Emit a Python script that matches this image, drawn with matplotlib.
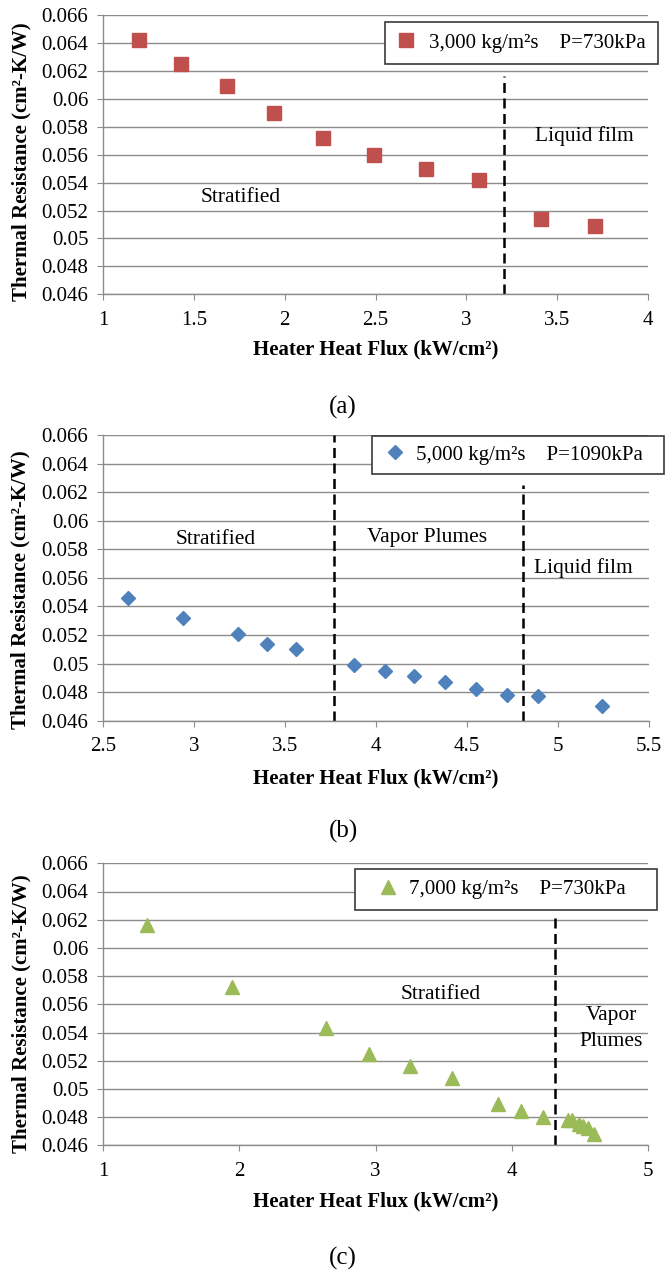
import matplotlib
matplotlib.use("Agg")
import matplotlib.pyplot as plt

# Data
qa = [1.20, 1.43, 1.68, 1.94, 2.21, 2.49, 2.78, 3.07, 3.41, 3.71]
ra = [0.0642, 0.0625, 0.0609, 0.0590, 0.0572, 0.0560, 0.0550, 0.0542, 0.0514, 0.0509]

qb = [2.64, 2.94, 3.24, 3.40, 3.56, 3.88, 4.05, 4.21, 4.38, 4.55, 4.72, 4.89, 5.24]
rb = [0.0546, 0.0532, 0.0521, 0.0514, 0.0510, 0.0499, 0.0495, 0.0491, 0.0487,
      0.0482, 0.0478, 0.0477, 0.0470]

qc = [1.32, 1.95, 2.64, 2.95, 3.25, 3.56, 3.90, 4.07, 4.23,
      4.41, 4.44, 4.49, 4.52, 4.56, 4.60]
rc = [0.0616, 0.0572, 0.0543, 0.0525, 0.0516, 0.0508, 0.0489, 0.0484, 0.0480,
      0.0478, 0.0478, 0.0475, 0.0474, 0.0472, 0.0468]

labels = ["3,000 kg/m²s    P=730kPa",
          "5,000 kg/m²s    P=1090kPa",
          "7,000 kg/m²s    P=730kPa"]
bounds_a = [3.21]
bounds_b = [3.77, 4.81]
bounds_c = [4.32]

plt.rcParams["font.family"] = ["Liberation Serif", "DejaVu Serif"]
GRID = "#8c8c8c"

fig = plt.figure(figsize=(6.65, 12.75), dpi=100)


def style(ax, xlim, xticks):
    ax.set_xlim(*xlim)
    ax.set_ylim(0.046, 0.066)
    ax.set_xticks(xticks)
    ax.set_xticklabels([("%g" % t) for t in xticks])
    yt = [0.046 + 0.002 * i for i in range(11)]
    ax.set_yticks(yt)
    ax.set_yticklabels([("%.3f" % t).rstrip("0") if t != 0.05 and t != 0.06 else ("%.2f" % t) for t in yt])
    ax.yaxis.grid(True, color=GRID, lw=1.0)
    ax.set_axisbelow(True)
    for s in ["top", "right"]:
        ax.spines[s].set_visible(False)
    for s in ["left", "bottom"]:
        ax.spines[s].set_color(GRID)
        ax.spines[s].set_linewidth(1.0)
    ax.tick_params(axis="y", length=4.5, color=GRID, labelsize=15, pad=6)
    ax.tick_params(axis="x", length=4, color=GRID, labelsize=15, pad=8)
    ax.set_xlabel("Heater Heat Flux (kW/cm²)", fontsize=15, fontweight="bold")
    ax.set_ylabel("Thermal Resistance (cm²-K/W)", fontsize=15, fontweight="bold")


def put_labels(ax, ax_h_px, xl_off, yl_off):
    ax.xaxis.set_label_coords(0.5, -xl_off / ax_h_px)
    ax.xaxis.label.set_verticalalignment("center")
    ax.yaxis.set_label_coords(-82 / 545, 0.5 - yl_off / ax_h_px)
    ax.yaxis.label.set_verticalalignment("center")


def leg(ax, x0, w, ytop, bp, hl, htp):
    L = ax.legend(loc="upper left", bbox_to_anchor=(x0, 0, w, ytop), mode="expand",
                  borderaxespad=0, fontsize=15, frameon=True, fancybox=False,
                  edgecolor="#3a3a3a", framealpha=1, borderpad=bp,
                  handlelength=hl, handletextpad=htp, numpoints=1)
    L.get_frame().set_linewidth(1.2)


# (a)
ax1 = fig.add_axes([103 / 665, 980.7 / 1275, 545 / 665, 279.3 / 1275])
ax1.plot(qa, ra, ls="none", marker="s", ms=9.5, color="#C0504D", mec="#C0504D", label=labels[0])
for b in bounds_a:
    ax1.plot([b, b], [0.046, 0.0616], color="black", ls=(0, (4, 2.2)), lw=1.8)
ax1.text(3.65, 0.0573, "Liquid film", fontsize=15.5, ha="center", va="center")
ax1.text(1.76, 0.0529, "Stratified", fontsize=15.5, ha="center", va="center")
style(ax1, (1, 4), [1, 1.5, 2, 2.5, 3, 3.5, 4])
put_labels(ax1, 279.3, 55, 7)
leg(ax1, 0.5174, 0.501, 0.976, 0.55, 0.95, 0.6)
fig.text(343 / 665, 1 - 407 / 1275, "(a)", fontsize=18, ha="center", va="center")

# (b)
ax2 = fig.add_axes([103 / 665, 554.3 / 1275, 546 / 665, 285.7 / 1275])
ax2.plot(qb, rb, ls="none", marker="D", ms=7, color="#4F81BD", mec="#4F81BD", label=labels[1])
ax2.plot([bounds_b[0]] * 2, [0.046, 0.066], color="black", ls=(0, (4, 2.2)), lw=1.8)
ax2.plot([bounds_b[1]] * 2, [0.046, 0.0625], color="black", ls=(0, (4, 2.2)), lw=1.8)
ax2.text(3.12, 0.0587, "Stratified", fontsize=15.5, ha="center", va="center")
ax2.text(4.28, 0.0588, "Vapor Plumes", fontsize=15.5, ha="center", va="center")
ax2.text(5.14, 0.0567, "Liquid film", fontsize=15.5, ha="center", va="center")
style(ax2, (2.5, 5.5), [2.5, 3, 3.5, 4, 4.5, 5, 5.5])
put_labels(ax2, 285.7, 58, 12)
leg(ax2, 0.4927, 0.535, 0.998, 0.45, 1.3, 0.35)
fig.text(343 / 665, 1 - 831 / 1275, "(b)", fontsize=18, ha="center", va="center")

# (c)
ax3 = fig.add_axes([103 / 665, 129.7 / 1275, 545 / 665, 282 / 1275])
ax3.plot(qc, rc, ls="none", marker="^", ms=10, color="#9BBB59", mec="#9BBB59", label=labels[2])
for b in bounds_c:
    ax3.plot([b, b], [0.046, 0.0621], color="black", ls=(0, (4, 2.2)), lw=1.8)
ax3.text(3.48, 0.0567, "Stratified", fontsize=15.5, ha="center", va="center")
ax3.text(4.73, 0.0543, "Vapor\nPlumes", fontsize=15.5, ha="center", va="center", linespacing=1.5)
style(ax3, (1, 5), [1, 2, 3, 4, 5])
put_labels(ax3, 282, 56, 9)
leg(ax3, 0.4618, 0.554, 0.981, 0.53, 2.1, 0.0)
fig.text(343 / 665, 1 - 1258 / 1275, "(c)", fontsize=18, ha="center", va="center")

fig.savefig("out.png", dpi=100)
